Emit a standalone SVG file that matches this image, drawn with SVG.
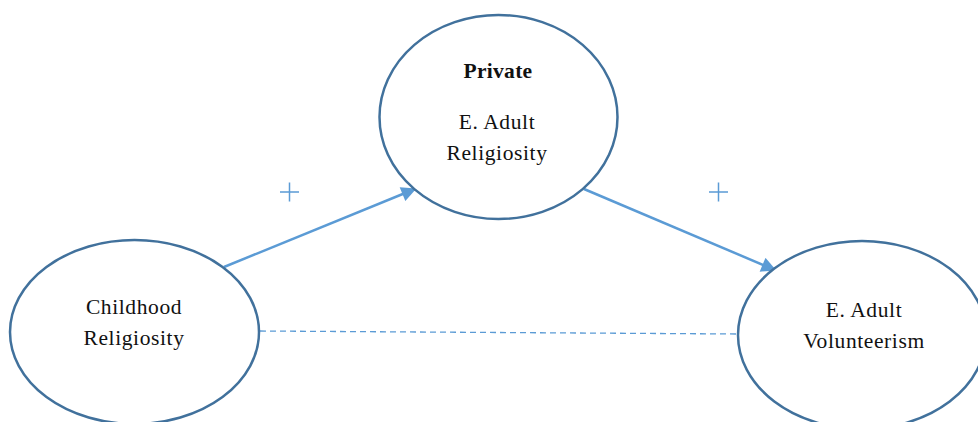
<svg xmlns="http://www.w3.org/2000/svg" width="978" height="422" viewBox="0 0 978 422">
<style>
.node{fill:#fff;stroke:#41719c;stroke-width:2.5}
.t{font-family:"Liberation Serif","DejaVu Serif",serif;font-size:21.5px;letter-spacing:0.6px;fill:#111;text-anchor:middle}
.b{font-weight:bold;letter-spacing:0.3px}
.arr{stroke:#5b9bd5;stroke-width:2.5;fill:none}
.dash{stroke:#5b9bd5;stroke-width:1.3;stroke-dasharray:6 4;fill:none}
.plus{stroke:#5b9bd5;stroke-width:1.5;fill:none}
</style>
<defs>
<marker id="ah" viewBox="0 0 10 10" refX="9" refY="5" markerWidth="6.5" markerHeight="6" orient="auto" markerUnits="strokeWidth">
<path d="M0,0 L10,5 L0,10 z" fill="#5b9bd5"/>
</marker>
</defs>
<g id="connectors">
<line class="arr" x1="224" y1="267" x2="415" y2="189" marker-end="url(#ah)"/>
<line class="arr" x1="584" y1="189" x2="775" y2="270" marker-end="url(#ah)"/>
<line class="dash" x1="260" y1="331" x2="738" y2="334"/>
<path class="plus" d="M280,192 h19 M289.5,182.5 v19"/>
<path class="plus" d="M709,192 h19 M718.5,182.5 v19"/>
</g>
<g id="private">
<ellipse class="node" cx="498.5" cy="117" rx="119" ry="102"/>
<text class="t b" x="498" y="78">Private</text>
<text class="t" x="497" y="129">E. Adult</text>
<text class="t" x="497" y="160">Religiosity</text>
</g>
<g id="childhood">
<ellipse class="node" cx="134.5" cy="332" rx="124.5" ry="92"/>
<text class="t" x="134" y="314">Childhood</text>
<text class="t" x="134" y="345">Religiosity</text>
</g>
<g id="volunteerism">
<ellipse class="node" cx="862" cy="335" rx="124" ry="94"/>
<text class="t" x="864" y="317">E. Adult</text>
<text class="t" x="864" y="348">Volunteerism</text>
</g>
</svg>
